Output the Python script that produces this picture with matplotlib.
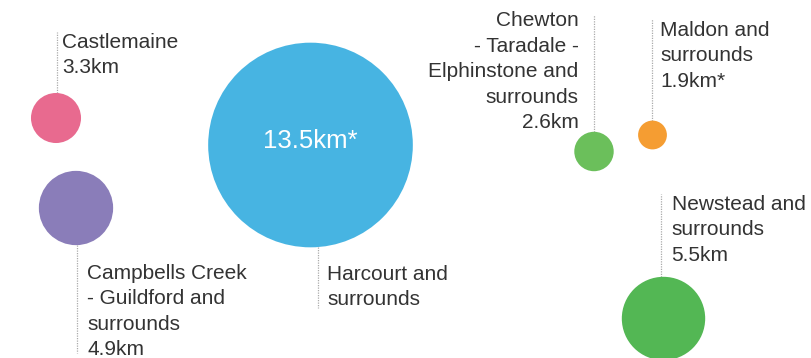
import matplotlib
matplotlib.use("Agg")
import matplotlib.pyplot as plt
from matplotlib.patches import Circle

# ---- data ----
names = ["Castlemaine",
         "Campbells Creek\n- Guildford and\nsurrounds",
         "Harcourt and\nsurrounds",
         "Chewton\n- Taradale -\nElphinstone and\nsurrounds",
         "Maldon and\nsurrounds",
         "Newstead and\nsurrounds"]
values = [3.3, 4.9, 13.5, 2.6, 1.9, 5.5]
notes = ["", "", "*", "", "*", ""]
colors = ["#E86A8F", "#8A7DB9", "#47B4E2", "#6BBF5B", "#F59D32", "#53B754"]

# ---- layout (pixel coordinates, y down) ----
cx = [56, 76, 310.5, 594, 652.5, 663.5]
cy = [118, 208, 145, 151.5, 135, 318.5]
leader_x = [56.5, 77, 318, 593.5, 652, 661]
leader_end = [32, 353, 308, 15, 19, 194]
text_x = [62, 87, 327, 578.5, 660, 671.5]
text_base = [48, 279, 280, 26.5, 36, 210]
text_ha = ["left", "left", "left", "right", "left", "left"]
value_inside = [False, False, True, False, False, False]
SCALE = 7.58       # px radius per km
LINE = 25.4        # px line spacing

plt.rcParams['font.family'] = ['Liberation Sans', 'DejaVu Sans']
fig = plt.figure(figsize=(8.11, 3.58), dpi=100)
ax = fig.add_axes([0, 0, 1, 1])
ax.set_xlim(0, 811)
ax.set_ylim(358, 0)
ax.set_aspect('equal')
ax.axis('off')

TXT = "#333333"
for i, v in enumerate(values):
    r = v * SCALE
    ax.add_patch(Circle((cx[i], cy[i]), r, facecolor=colors[i], edgecolor='none', zorder=2))
    # leader line from circle edge
    dx = leader_x[i] - cx[i]
    dy = (r ** 2 - dx ** 2) ** 0.5
    start = cy[i] - dy if leader_end[i] < cy[i] else cy[i] + dy
    ax.plot([leader_x[i], leader_x[i]], [start, leader_end[i]], color="#AAAAAA",
            lw=0.9, linestyle=(0, (1, 1)), zorder=1)
    val = f"{v}km{notes[i]}"
    lines = names[i].split("\n")
    if value_inside[i]:
        ax.text(cx[i], cy[i] - 4, val, color="white", fontsize=18.5, ha="center",
                va="center", zorder=3)
    else:
        lines = lines + [val]
    for j, ln in enumerate(lines):
        ax.text(text_x[i], text_base[i] + j * LINE, ln, color=TXT, fontsize=15,
                ha=text_ha[i], va="baseline", zorder=3)

fig.savefig("out.png", dpi=100)
